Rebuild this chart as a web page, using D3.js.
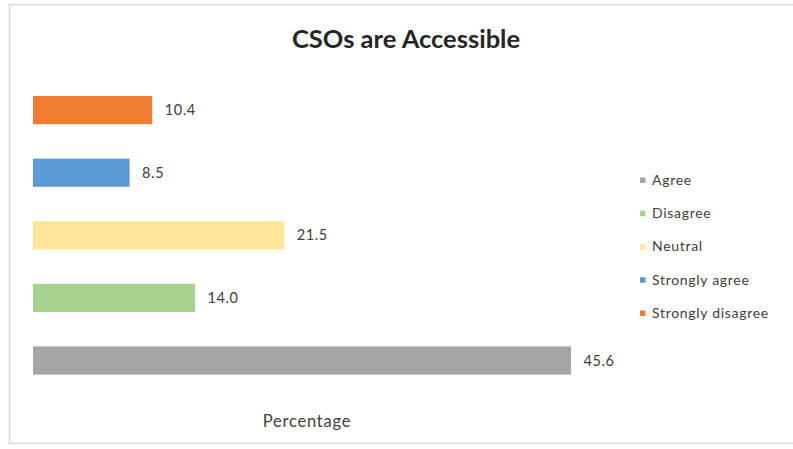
<!DOCTYPE html>
<html>
<head>
<meta charset="utf-8">
<script src="https://cdn.jsdelivr.net/npm/d3@7"></script>
<style>
  html, body { margin: 0; padding: 0; background: #fff; }
  svg { display: block; }
</style>
</head>
<body>
<svg id="chart" width="793" height="449"></svg>
<script>
// Survey responses, legend order
const categories = ["Agree", "Disagree", "Neutral", "Strongly agree", "Strongly disagree"];
const values = [45.6, 14.0, 21.5, 8.5, 10.4];
const colors = ["#A5A5A5", "#A9D18E", "#FFE699", "#5B9BD5", "#ED7D31"];
const titleText = "CSOs are Accessible";
const axisTitle = "Percentage";

const data = categories.map((c, i) => ({ category: c, value: values[i], color: colors[i] }));

const svg = d3.select("#chart");
const fontFamily = "Lato, 'Open Sans', sans-serif";

// Chart area frame
svg.append("rect")
  .attr("x", 9.5).attr("y", 4.5)
  .attr("width", 800).attr("height", 439)
  .attr("fill", "#fff")
  .attr("stroke", "#d9d9d9")
  .attr("stroke-width", 1.5);

// Title
svg.append("text")
  .attr("x", 406).attr("y", 48)
  .attr("text-anchor", "middle")
  .attr("font-family", fontFamily)
  .attr("font-weight", "bold")
  .attr("font-size", 25.5)
  .attr("fill", "#262626")
  .text(titleText);

// Horizontal value scale; the axis begins a little above zero
const x = d3.scaleLinear().domain([0.38, 45.6]).range([33, 571]);

// Categories stacked bottom-up: first category at the bottom
const y = d3.scaleBand()
  .domain(categories.slice().reverse())
  .range([78.8, 391.8])
  .paddingInner(0.55)
  .paddingOuter(0.275);

const bars = svg.append("g");
bars.selectAll("rect")
  .data(data)
  .join("rect")
  .attr("x", x(x.domain()[0]))
  .attr("y", d => y(d.category))
  .attr("width", d => x(d.value) - x(x.domain()[0]))
  .attr("height", y.bandwidth())
  .attr("fill", d => d.color);

// Value labels
bars.selectAll("text")
  .data(data)
  .join("text")
  .attr("x", d => x(d.value) + 12.5)
  .attr("y", d => y(d.category) + y.bandwidth() / 2)
  .attr("dy", "0.35em")
  .attr("font-family", fontFamily)
  .attr("font-size", 14.5)
  .attr("letter-spacing", 0.6)
  .attr("fill", "#404040")
  .text(d => d.value.toFixed(1));

// Axis title
svg.append("text")
  .attr("x", 307).attr("y", 421)
  .attr("dy", "0.35em")
  .attr("text-anchor", "middle")
  .attr("font-family", fontFamily)
  .attr("font-size", 16.5)
  .attr("letter-spacing", 0.8)
  .attr("fill", "#404040")
  .text(axisTitle);

// Legend
const legend = svg.append("g");
const legendY = d3.scalePoint().domain(categories).range([180, 313]);
const item = legend.selectAll("g")
  .data(data)
  .join("g")
  .attr("transform", d => `translate(640, ${legendY(d.category)})`);
item.append("rect")
  .attr("x", 0).attr("y", -2.5)
  .attr("width", 5.5).attr("height", 5.5)
  .attr("fill", d => d.color);
item.append("text")
  .attr("x", 12).attr("y", 0)
  .attr("dy", "0.35em")
  .attr("font-family", fontFamily)
  .attr("font-size", 14)
  .attr("letter-spacing", 0.7)
  .attr("fill", "#404040")
  .text(d => d.category);
</script>
</body>
</html>
